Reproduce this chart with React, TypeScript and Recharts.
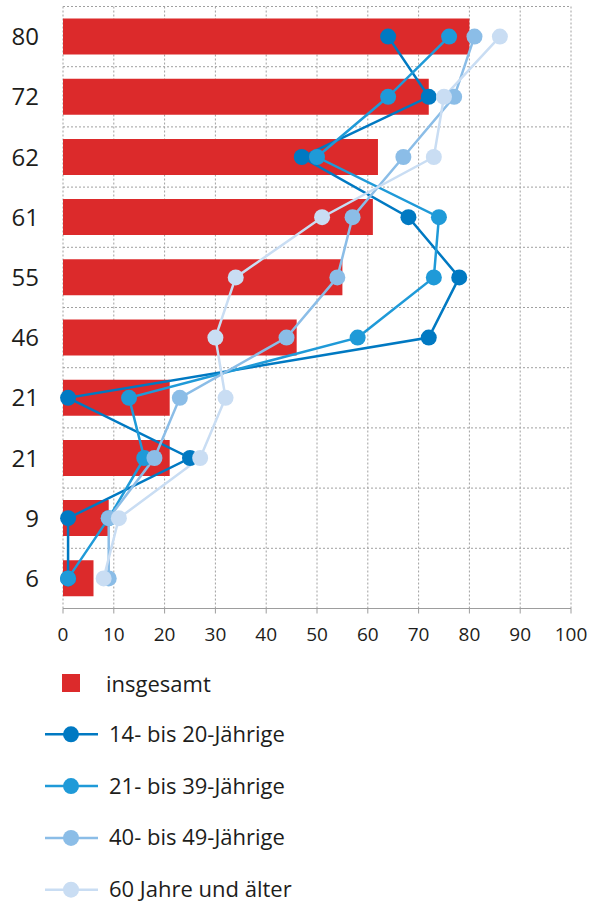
import React from "react";
import {
  ComposedChart,
  Bar,
  Line,
  XAxis,
  YAxis,
  CartesianGrid,
} from "recharts";

// Share values per row (percent)
const totals = [80, 72, 62, 61, 55, 46, 21, 21, 9, 6];
const age14to20 = [64, 72, 47, 68, 78, 72, 1, 25, 1, 1];
const age21to39 = [76, 64, 50, 74, 73, 58, 13, 16, 9, 1];
const age40to49 = [81, 77, 67, 57, 54, 44, 23, 18, 9, 9];
const age60plus = [86, 75, 73, 51, 34, 30, 32, 27, 11, 8];

const xTicks = [0, 10, 20, 30, 40, 50, 60, 70, 80, 90, 100];

const totalSeries = { key: "total", name: "insgesamt", color: "#dc2a2b" };

const lineSeries = [
  { key: "a14", name: "14- bis 20-Jährige", color: "#0079c2", values: age14to20 },
  { key: "a21", name: "21- bis 39-Jährige", color: "#1f9ad8", values: age21to39 },
  { key: "a40", name: "40- bis 49-Jährige", color: "#8bbde7", values: age40to49 },
  { key: "a60", name: "60 Jahre und älter", color: "#c9ddf3", values: age60plus },
];

const data = totals.map((t, i) => {
  const row: Record<string, number | string> = { id: `r${i}`, total: t };
  lineSeries.forEach((s) => {
    row[s.key] = s.values[i];
  });
  return row;
});

const FONT = "'Open Sans', 'Noto Sans', sans-serif";
const TEXT = "#1d1d1b";

const CHART_W = 590;
const CHART_H = 650;

function LegendBlock() {
  const rowGap = 51.8;
  return (
    <svg width={590} height={253} style={{ display: "block" }}>
      <rect x={62} y={24} width={18} height={18} fill={totalSeries.color} />
      <text
        x={106}
        y={32.5}
        dominantBaseline="central"
        fontSize={22}
        fill={TEXT}
        fontFamily={FONT}
      >
        {totalSeries.name}
      </text>
      {lineSeries.map((s, i) => {
        const cy = 84.3 + i * rowGap;
        return (
          <g key={s.key}>
            <line x1={45} x2={98} y1={cy} y2={cy} stroke={s.color} strokeWidth={2.5} />
            <circle cx={71} cy={cy} r={8} fill={s.color} />
            <text
              x={109}
              y={cy - 1.5}
              dominantBaseline="central"
              fontSize={22}
              fill={TEXT}
              fontFamily={FONT}
            >
              {s.name}
            </text>
          </g>
        );
      })}
    </svg>
  );
}

export default function App() {
  const n = data.length;
  return (
    <div
      style={{
        position: "absolute",
        left: 0,
        top: 0,
        width: 590,
        height: 903,
        background: "#fff",
        fontFamily: FONT,
      }}
    >
      <ComposedChart
        layout="vertical"
        width={CHART_W}
        height={CHART_H}
        data={data}
        margin={{ top: 6.5, right: 19, bottom: 0, left: 0 }}
      >
        <CartesianGrid
          stroke="#a0a0a0"
          strokeDasharray="2 2"
          horizontalCoordinatesGenerator={({ offset }: any) =>
            Array.from({ length: n + 1 }, (_, i) => offset.top + (i * offset.height) / n)
          }
        />
        <XAxis
          type="number"
          domain={[0, 100]}
          ticks={xTicks}
          interval={0}
          height={41.5}
          stroke="#9d9d9d"
          tickSize={5}
          tickMargin={14}
          tick={{ fill: TEXT, fontSize: 19, fontFamily: FONT }}
        />
        <YAxis
          type="category"
          dataKey="id"
          width={63}
          axisLine={false}
          tickLine={false}
          tickSize={0}
          tickMargin={24}
          interval={0}
          tick={{ fill: TEXT, fontSize: 24, fontFamily: FONT }}
          tickFormatter={(_v: string, i: number) => String(totals[i])}
        />
        <Bar
          dataKey={totalSeries.key}
          name={totalSeries.name}
          fill={totalSeries.color}
          barSize={36}
          isAnimationActive={false}
        />
        {lineSeries.map((s) => (
          <Line
            key={s.key}
            type="linear"
            dataKey={s.key}
            name={s.name}
            stroke={s.color}
            strokeWidth={2.5}
            dot={{ r: 8, fill: s.color, stroke: "none" }}
            activeDot={false}
            isAnimationActive={false}
          />
        ))}
      </ComposedChart>
      <LegendBlock />
    </div>
  );
}
